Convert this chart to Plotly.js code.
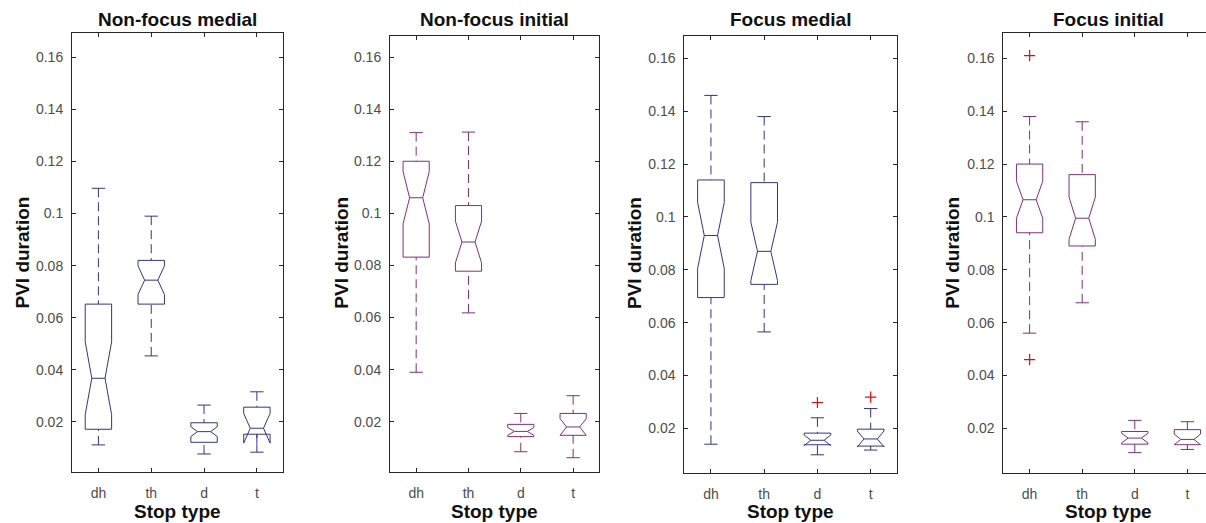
<!DOCTYPE html>
<html><head><meta charset="utf-8">
<script src="https://cdn.plot.ly/plotly-3.0.1.min.js"></script>
<style>html,body{margin:0;padding:0;background:#fff}#chart{width:1206px;height:523px}</style>
</head><body><div id="chart"></div>
<script>
// ---- data ----
const categories = ['dh', 'th', 'd', 't'];
const panelTitles = ['Non-focus medial', 'Non-focus initial', 'Focus medial', 'Focus initial'];
const xTitle = 'Stop type';
const yTitle = 'PVI duration';
const yTickVals = [0.02, 0.04, 0.06, 0.08, 0.1, 0.12, 0.14, 0.16];
const yTickText = ['0.02', '0.04', '0.06', '0.08', '0.1', '0.12', '0.14', '0.16'];

// Non-focus medial
const nfmUpper  = [0.1097, 0.0990, 0.0264, 0.0315];
const nfmQ3     = [0.0652, 0.0820, 0.0196, 0.0256];
const nfmMedian = [0.0367, 0.0744, 0.0162, 0.0175];
const nfmQ1     = [0.0171, 0.0652, 0.0121, 0.0152];
const nfmLower  = [0.0111, 0.0453, 0.0076, 0.0083];
const nfmNotch  = [0.0140, 0.0055, 0.0019, 0.0057];
const nfmOutCat = [];
const nfmOutVal = [];

// Non-focus initial
const nfiUpper  = [0.1310, 0.1312, 0.0232, 0.0300];
const nfiQ3     = [0.1200, 0.1030, 0.0190, 0.0232];
const nfiMedian = [0.1060, 0.0890, 0.0163, 0.0180];
const nfiQ1     = [0.0832, 0.0778, 0.0143, 0.0148];
const nfiLower  = [0.0390, 0.0618, 0.0085, 0.0062];
const nfiNotch  = [0.0100, 0.0080, 0.0015, 0.0032];
const nfiOutCat = [];
const nfiOutVal = [];

// Focus medial
const fmUpper  = [0.1460, 0.1380, 0.0240, 0.0275];
const fmQ3     = [0.1140, 0.1130, 0.0182, 0.0197];
const fmMedian = [0.0930, 0.0870, 0.0155, 0.0160];
const fmQ1     = [0.0695, 0.0745, 0.0138, 0.0133];
const fmLower  = [0.0140, 0.0565, 0.0100, 0.0118];
const fmNotch  = [0.0125, 0.0110, 0.0020, 0.0030];
const fmOutCat = ['d', 't'];
const fmOutVal = [0.0298, 0.0318];

// Focus initial
const fiUpper  = [0.1380, 0.1360, 0.0230, 0.0225];
const fiQ3     = [0.1200, 0.1160, 0.0188, 0.0195];
const fiMedian = [0.1065, 0.0995, 0.0163, 0.0158];
const fiQ1     = [0.0940, 0.0890, 0.0140, 0.0138];
const fiLower  = [0.0560, 0.0675, 0.0108, 0.0120];
const fiNotch  = [0.0070, 0.0080, 0.0018, 0.0020];
const fiOutCat = ['dh', 'dh'];
const fiOutVal = [0.1610, 0.0460];

const blue = '#33338c';
const purple = '#7f2f7f';
const panelColors = [blue, purple, blue, purple];

const panels = [
  {up: nfmUpper, q3: nfmQ3, med: nfmMedian, q1: nfmQ1, lo: nfmLower, notch: nfmNotch, oc: nfmOutCat, ov: nfmOutVal},
  {up: nfiUpper, q3: nfiQ3, med: nfiMedian, q1: nfiQ1, lo: nfiLower, notch: nfiNotch, oc: nfiOutCat, ov: nfiOutVal},
  {up: fmUpper,  q3: fmQ3,  med: fmMedian,  q1: fmQ1,  lo: fmLower,  notch: fmNotch,  oc: fmOutCat,  ov: fmOutVal},
  {up: fiUpper,  q3: fiQ3,  med: fiMedian,  q1: fiQ1,  lo: fiLower,  notch: fiNotch,  oc: fiOutCat,  ov: fiOutVal}
];

// ---- layout geometry (pixels in a 1206x523 figure) ----
const W = 1206, H = 523;
const geom = [
  {l: 72,     r: 283.3,  t: 32.7, b: 471.7, yr: [0.0008, 0.1695], xr: [-0.5, 3.5]},
  {l: 390,    r: 599.3,  t: 35.7, b: 472.3, yr: [0.0006, 0.1682], xr: [-0.5, 3.5]},
  {l: 684.3,  r: 897.3,  t: 35.7, b: 473.3, yr: [0.0030, 0.1686], xr: [-0.5, 3.5]},
  {l: 1003.3, r: 1206,   t: 33.0, b: 472.7, yr: [0.0032, 0.1696], xr: [-0.5, 3.354]}
];
const frame = '#262626';
const tickFont = {family: 'Liberation Sans, Arial, sans-serif', size: 14, color: '#4d4d4d'};
const boldFont = {family: 'Liberation Sans, Arial, sans-serif', size: 19, color: '#111111', weight: 'bold'};

const traces = [];
const layout = {
  width: W, height: H,
  margin: {l: 0, r: 0, t: 0, b: 0},
  paper_bgcolor: '#ffffff', plot_bgcolor: '#ffffff',
  showlegend: false,
  boxmode: 'overlay',
  annotations: []
};

panels.forEach((p, i) => {
  const g = geom[i];
  const n = i === 0 ? '' : String(i + 1);
  const xa = 'x' + n, ya = 'y' + n;
  const col = panelColors[i];

  // dashed whiskers
  const wx = [], wy = [];
  categories.forEach((c, k) => {
    wx.push(c, c, null, c, c, null);
    wy.push(p.up[k], p.q3[k], null, p.lo[k], p.q1[k], null);
  });
  traces.push({type: 'scatter', mode: 'lines', x: wx, y: wy, xaxis: xa, yaxis: ya,
    line: {color: col, width: 1, dash: '9px,5px'}, hoverinfo: 'skip', connectgaps: false});

  // whisker caps
  traces.push({type: 'scatter', mode: 'markers', x: categories.concat(categories), y: p.up.concat(p.lo),
    xaxis: xa, yaxis: ya, hoverinfo: 'skip',
    marker: {symbol: 'line-ew', size: 9.5, color: col, line: {color: col, width: 1}}});

  // notched boxes
  traces.push({type: 'box', x: categories, q1: p.q1, median: p.med, q3: p.q3,
    lowerfence: p.q1, upperfence: p.q3, notched: true, notchspan: p.notch, notchwidth: 0.25,
    width: 0.5, whiskerwidth: 0, boxpoints: false, xaxis: xa, yaxis: ya,
    line: {color: col, width: 1}, fillcolor: 'rgba(0,0,0,0)'});

  // outliers
  if (p.oc.length) {
    traces.push({type: 'scatter', mode: 'markers', x: p.oc, y: p.ov, xaxis: xa, yaxis: ya,
      marker: {symbol: 'cross-thin', size: 8, color: '#ff0000', line: {color: '#ff0000', width: 1.2}}});
  }

  layout['xaxis' + n] = {
    domain: [g.l / W, g.r / W], anchor: ya, type: 'category',
    categoryorder: 'array', categoryarray: categories,
    range: g.xr, showline: true, linecolor: frame, linewidth: 1, mirror: 'ticks',
    ticks: 'inside', ticklen: 4, tickcolor: frame, tickwidth: 1,
    tickfont: tickFont, ticklabelstandoff: 8, showgrid: false, zeroline: false, fixedrange: true
  };
  layout['yaxis' + n] = {
    domain: [1 - g.b / H, 1 - g.t / H], anchor: xa, range: g.yr,
    tickvals: yTickVals, ticktext: yTickText,
    showline: true, linecolor: frame, linewidth: 1, mirror: i === 3 ? false : 'ticks',
    ticks: 'inside', ticklen: 4, tickcolor: frame, tickwidth: 1,
    tickfont: tickFont, ticklabelstandoff: 5, showgrid: false, zeroline: false, fixedrange: true
  };

  const centerX = i === 3 ? (g.l + 105.2) : (g.l + g.r) / 2;
  layout.annotations.push({text: panelTitles[i], xref: 'paper', yref: 'paper',
    x: centerX / W, y: 1 - 19.5 / H, xanchor: 'center', yanchor: 'middle', showarrow: false, font: boldFont});
  layout.annotations.push({text: xTitle, xref: 'paper', yref: 'paper',
    x: centerX / W, y: 1 - 511 / H, xanchor: 'center', yanchor: 'middle', showarrow: false, font: boldFont});
});

const yTitleX = [22.5, 341.7, 635, 952.7];
yTitleX.forEach((px) => {
  layout.annotations.push({text: yTitle, xref: 'paper', yref: 'paper', textangle: -90,
    x: px / W, y: 1 - 253 / H, xanchor: 'center', yanchor: 'middle', showarrow: false, font: boldFont});
});

Plotly.newPlot('chart', traces, layout, {staticPlot: true, displayModeBar: false});
</script>
</body></html>
